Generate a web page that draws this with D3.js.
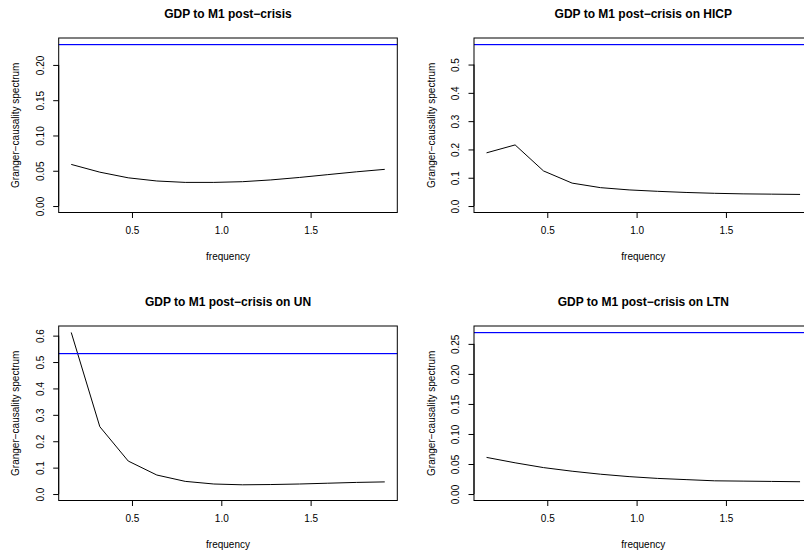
<!DOCTYPE html>
<html><head><meta charset="utf-8">
<script src="https://cdn.jsdelivr.net/npm/d3@7"></script>
<style>
html,body{margin:0;padding:0;background:#fff;overflow:hidden}
svg{display:block}
text{font-family:"Liberation Sans",Arial,Helvetica,sans-serif;fill:#000}
</style></head>
<body>
<svg id="chart" width="804" height="557"></svg>
<script>
// ---- data ----
const frequency = [0.160, 0.320, 0.479, 0.639, 0.798, 0.958, 1.118, 1.277, 1.437, 1.596, 1.756, 1.915];
const titles = [
  "GDP to M1 post\u2212crisis",
  "GDP to M1 post\u2212crisis on HICP",
  "GDP to M1 post\u2212crisis on UN",
  "GDP to M1 post\u2212crisis on LTN"
];
const spectrumPlain = [0.059, 0.048, 0.040, 0.0355, 0.0335, 0.0335, 0.0345, 0.037, 0.0405, 0.0445, 0.0485, 0.052];
const spectrumHICP  = [0.188, 0.216, 0.124, 0.081, 0.065, 0.057, 0.052, 0.048, 0.045, 0.043, 0.042, 0.041];
const spectrumUN    = [0.612, 0.255, 0.125, 0.072, 0.048, 0.038, 0.035, 0.036, 0.038, 0.041, 0.044, 0.046];
const spectrumLTN   = [0.061, 0.052, 0.044, 0.038, 0.033, 0.029, 0.026, 0.024, 0.022, 0.0215, 0.021, 0.0205];
const thresholds = [0.229, 0.571, 0.532, 0.269];
const xTicks = [0.5, 1.0, 1.5];
const xTickLabels = ["0.5", "1.0", "1.5"];
const yTicks = [
  [0, 0.05, 0.10, 0.15, 0.20],
  [0, 0.1, 0.2, 0.3, 0.4, 0.5],
  [0, 0.1, 0.2, 0.3, 0.4, 0.5, 0.6],
  [0, 0.05, 0.10, 0.15, 0.20, 0.25]
];
const yTickLabels = [
  ["0.00", "0.05", "0.10", "0.15", "0.20"],
  ["0.0", "0.1", "0.2", "0.3", "0.4", "0.5"],
  ["0.0", "0.1", "0.2", "0.3", "0.4", "0.5", "0.6"],
  ["0.00", "0.05", "0.10", "0.15", "0.20", "0.25"]
];
const xLabel = "frequency";
const yLabel = "Granger\u2212causality spectrum";
const series = [spectrumPlain, spectrumHICP, spectrumUN, spectrumLTN];

// ---- layout ----
const panelW = 415.3, panelH = 288;
const box = {left: 58.7, right: 397.3, top: 38, bottom: 212.5};
const tickLen = 5.5;

const svg = d3.select("#chart");

series.forEach((vals, i) => {
  const col = i % 2, row = Math.floor(i / 2);
  const g = svg.append("g").attr("transform", `translate(${col * panelW},${row * panelH})`);

  const xr = d3.extent(frequency);
  const xpad = (xr[1] - xr[0]) * 0.04;
  const x = d3.scaleLinear().domain([xr[0] - xpad, xr[1] + xpad]).range([box.left, box.right]);

  const ymax = Math.max(d3.max(vals), thresholds[i]);
  const ymin = 0;
  const ypad = (ymax - ymin) * 0.04;
  const y = d3.scaleLinear().domain([ymin - ypad, ymax + ypad]).range([box.bottom, box.top]);

  // title
  g.append("text").attr("x", (box.left + box.right) / 2).attr("y", 18)
    .attr("text-anchor", "middle").style("font-weight", "bold").style("font-size", "12px")
    .text(titles[i]);

  // spectrum
  const lineGen = d3.line().x((d, k) => x(frequency[k])).y(d => y(d));
  g.append("path").datum(vals).attr("d", lineGen)
    .attr("fill", "none").attr("stroke", "#000").attr("stroke-width", 1);

  // threshold line (drawn after the spectrum, as abline in R)
  const ty = Math.floor(y(thresholds[i]));
  g.append("rect")
    .attr("x", box.left).attr("y", ty)
    .attr("width", box.right - box.left).attr("height", 1.2)
    .attr("fill", "#0000ff").attr("stroke", "none");

  // box
  g.append("rect").attr("x", box.left).attr("y", box.top)
    .attr("width", box.right - box.left).attr("height", box.bottom - box.top)
    .attr("fill", "none").attr("stroke", "#000").attr("stroke-width", 1);

  // x axis
  const xa = g.append("g").attr("transform", `translate(0,${box.bottom})`)
    .call(d3.axisBottom(x).tickValues(xTicks).tickSize(tickLen).tickPadding(9)
      .tickFormat((d, k) => xTickLabels[k]));
  xa.selectAll("text").style("font-size", "10px").style("font-family", '"Liberation Sans",Arial,sans-serif');
  xa.select(".domain").remove();
  xa.append("line").attr("x1", x(xTicks[0])).attr("x2", x(xTicks[xTicks.length - 1]))
    .attr("stroke", "#000");

  // y axis
  const ya = g.append("g").attr("transform", `translate(${box.left},0)`)
    .call(d3.axisLeft(y).tickValues(yTicks[i]).tickSize(tickLen).tickFormat((d, k) => yTickLabels[i][k]));
  ya.select(".domain").remove();
  const yt = yTicks[i];
  ya.append("line").attr("y1", y(yt[0])).attr("y2", y(yt[yt.length - 1])).attr("stroke", "#000");
  ya.selectAll(".tick text")
    .attr("x", null).attr("dy", null)
    .attr("transform", "translate(-15.2,0) rotate(-90)")
    .attr("text-anchor", "middle")
    .attr("dy", 0)
    .style("font-size", "10px").style("font-family", '"Liberation Sans",Arial,sans-serif');

  // axis titles
  g.append("text").attr("x", (box.left + box.right) / 2).attr("y", 259.5)
    .attr("text-anchor", "middle").style("font-size", "10px").text(xLabel);
  g.append("text")
    .attr("transform", `translate(19.3,${(box.top + box.bottom) / 2}) rotate(-90)`)
    .attr("text-anchor", "middle").style("font-size", "10px").text(yLabel);
});
</script>
</body></html>
